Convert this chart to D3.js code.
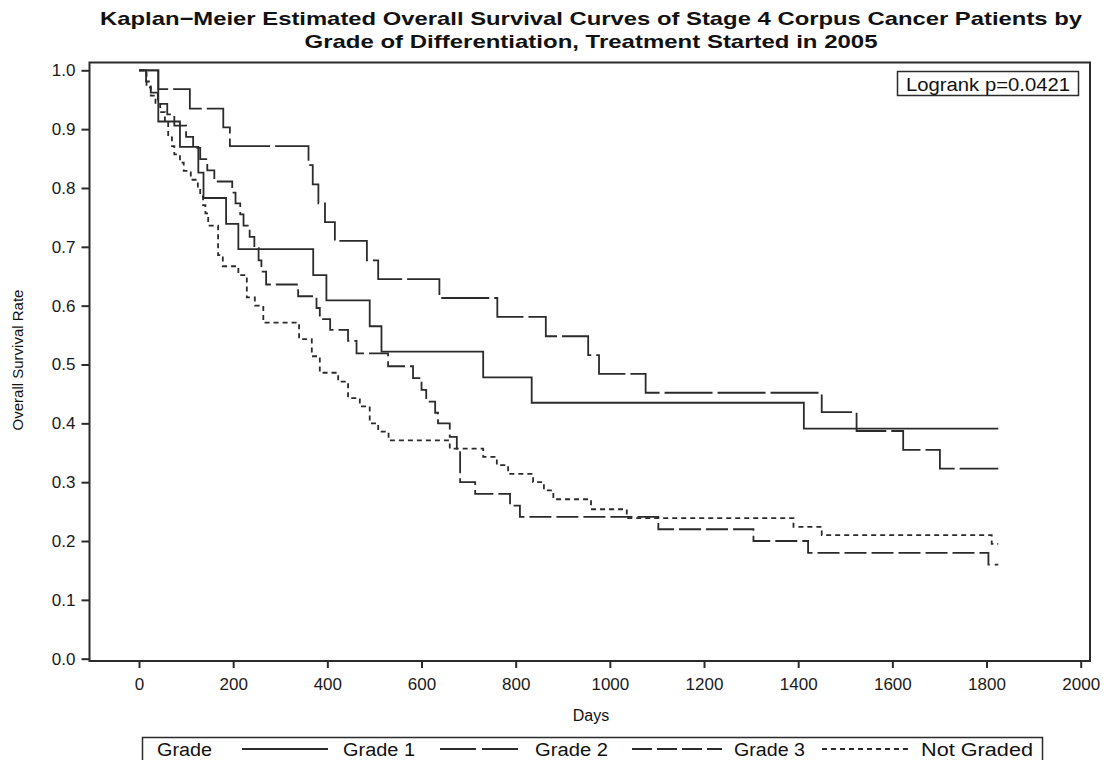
<!DOCTYPE html>
<html>
<head>
<meta charset="utf-8">
<script src="https://cdn.jsdelivr.net/npm/d3@7"></script>
<style>
  html, body { margin: 0; padding: 0; background: #fff; }
  svg { display: block; font-family: "Liberation Sans", Arial, sans-serif; }
</style>
</head>
<body>
<svg id="chart" width="1110" height="760"></svg>
<script>
// ---------------- data ----------------
const titleLines = [
  "Kaplan\u2212Meier Estimated Overall Survival Curves of Stage 4 Corpus Cancer Patients by",
  "Grade of Differentiation, Treatment Started in 2005"
];
const xTicks = [0, 200, 400, 600, 800, 1000, 1200, 1400, 1600, 1800, 2000];
const yTicks = [0.0, 0.1, 0.2, 0.3, 0.4, 0.5, 0.6, 0.7, 0.8, 0.9, 1.0];
const seriesNames = ["Grade 1", "Grade 2", "Grade 3", "Not Graded"];
const logrankText = "Logrank p=0.0421";

const grade1Days = [0, 41, 87, 126, 137, 185, 211, 370, 398, 490, 515, 731, 834, 1412, 1825];
const grade1Surv = [1.0, 0.913, 0.870, 0.826, 0.783, 0.739, 0.696, 0.652, 0.609, 0.565, 0.522, 0.478, 0.435, 0.391, 0.391];

const grade2Days = [0, 41, 108, 179, 193, 360, 369, 381, 395, 416, 484, 508, 638, 761, 864, 954, 977, 1076, 1450, 1524, 1623, 1701, 1825];
const grade2Surv = [1.0, 0.968, 0.935, 0.903, 0.871, 0.839, 0.806, 0.774, 0.742, 0.710, 0.677, 0.645, 0.613, 0.581, 0.548, 0.516, 0.484, 0.452, 0.419, 0.387, 0.355, 0.323, 0.323];

const grade3Days = [0, 15, 25, 40, 60, 75, 100, 115, 130, 145, 160, 198, 205, 215, 222, 235, 245, 254, 260, 270, 338, 377, 384, 406, 444, 462, 529, 582, 600, 610, 629, 635, 660, 675, 682, 714, 788, 809, 1103, 1305, 1421, 1804, 1825];
const grade3Surv = [1.0, 0.981, 0.962, 0.943, 0.925, 0.906, 0.887, 0.868, 0.849, 0.830, 0.811, 0.792, 0.774, 0.755, 0.736, 0.717, 0.698, 0.677, 0.658, 0.636, 0.616, 0.596, 0.577, 0.559, 0.540, 0.519, 0.497, 0.477, 0.457, 0.437, 0.418, 0.400, 0.377, 0.355, 0.300, 0.280, 0.260, 0.241, 0.220, 0.200, 0.180, 0.160, 0.160];

const notGradedDays = [0, 16, 25, 35, 45, 55, 62, 70, 75, 87, 95, 110, 125, 130, 136, 141, 147, 168, 178, 211, 229, 246, 264, 340, 367, 384, 423, 444, 469, 490, 508, 530, 660, 731, 760, 784, 837, 860, 880, 960, 1036, 1390, 1450, 1811, 1825];
const notGradedSurv = [1.0, 0.971, 0.957, 0.943, 0.929, 0.914, 0.886, 0.871, 0.857, 0.843, 0.829, 0.814, 0.800, 0.786, 0.771, 0.757, 0.736, 0.686, 0.667, 0.652, 0.614, 0.600, 0.571, 0.543, 0.514, 0.486, 0.471, 0.443, 0.429, 0.400, 0.386, 0.371, 0.357, 0.343, 0.329, 0.314, 0.300, 0.286, 0.271, 0.254, 0.239, 0.224, 0.210, 0.195, 0.195];

// ---------------- layout ----------------
const ink = "#2b2b2b";
const plot = { left: 89.5, right: 1090, top: 62.5, bottom: 661 };
const x = d3.scaleLinear().domain([0, 2000]).range([139, 1080.7]);
const y = d3.scaleLinear().domain([0, 1]).range([658.7, 70.3]);

const dashes = ["none", "48,5", "22,5", "5,4"];
const series = [
  { name: seriesNames[0], days: grade1Days, surv: grade1Surv, dash: dashes[0] },
  { name: seriesNames[1], days: grade2Days, surv: grade2Surv, dash: dashes[1] },
  { name: seriesNames[2], days: grade3Days, surv: grade3Surv, dash: dashes[2] },
  { name: seriesNames[3], days: notGradedDays, surv: notGradedSurv, dash: dashes[3] }
];

const svg = d3.select("#chart");

// title
svg.append("g").selectAll("text").data(titleLines).join("text")
  .attr("x", 591).attr("y", (d, i) => 25 + i * 23)
  .attr("text-anchor", "middle")
  .attr("font-size", 19).attr("font-weight", "bold").attr("fill", "#111")
  .attr("textLength", (d, i) => i === 0 ? 982 : 573)
  .attr("lengthAdjust", "spacingAndGlyphs")
  .text(d => d);

// curves
const line = d3.line()
  .x(d => x(d[0])).y(d => y(d[1]))
  .curve(d3.curveStepAfter);

svg.append("g").selectAll("path").data(series).join("path")
  .attr("d", s => line(s.days.map((d, i) => [d, s.surv[i]])))
  .attr("fill", "none")
  .attr("stroke", ink)
  .attr("stroke-width", 1.8)
  .attr("stroke-dasharray", s => s.dash);

// axes
const yAxis = d3.axisLeft(y).tickValues(yTicks).tickFormat(d3.format(".1f")).tickSize(8).tickSizeOuter(0).tickPadding(6);
const gy = svg.append("g").attr("transform", `translate(${plot.left},0)`).call(yAxis);
const xAxis = d3.axisBottom(x).tickValues(xTicks).tickFormat(d3.format("d")).tickSize(7).tickSizeOuter(0).tickPadding(10);
const gx = svg.append("g").attr("transform", `translate(0,${plot.bottom})`).call(xAxis);
[gx, gy].forEach(g => {
  g.select(".domain").remove();
  g.selectAll(".tick line").attr("stroke", ink).attr("stroke-width", 2);
  g.selectAll(".tick text").attr("fill", "#1a1a1a").attr("font-size", 17)
    .attr("font-family", "'Liberation Sans', Arial, sans-serif");
});

// frame
svg.append("rect")
  .attr("x", plot.left).attr("y", plot.top)
  .attr("width", plot.right - plot.left).attr("height", plot.bottom - plot.top)
  .attr("fill", "none").attr("stroke", ink).attr("stroke-width", 2);

// axis titles
svg.append("text").attr("x", 591).attr("y", 721).attr("text-anchor", "middle")
  .attr("font-size", 16).attr("fill", "#111").text("Days");
svg.append("text").attr("transform", "translate(23,360) rotate(-90)")
  .attr("text-anchor", "middle").attr("font-size", 15).attr("fill", "#111")
  .text("Overall Survival Rate");

// logrank box
svg.append("rect").attr("x", 897.5).attr("y", 71.5).attr("width", 181).attr("height", 24)
  .attr("fill", "#fff").attr("stroke", ink).attr("stroke-width", 1.5);
svg.append("text").attr("x", 988).attr("y", 90.5).attr("text-anchor", "middle")
  .attr("font-size", 18).attr("fill", "#111")
  .attr("textLength", 164).attr("lengthAdjust", "spacingAndGlyphs")
  .text(logrankText);

// legend
const lg = svg.append("g");
lg.append("rect").attr("x", 142.5).attr("y", 737.5).attr("width", 900).attr("height", 40)
  .attr("fill", "#fff").attr("stroke", ink).attr("stroke-width", 1.5);
lg.append("text").attr("x", 157).attr("y", 756).attr("font-size", 18).attr("fill", "#111")
  .attr("textLength", 55).attr("lengthAdjust", "spacingAndGlyphs").text("Grade");
const legendItems = [
  { x1: 242, x2: 328, tx: 343, w: 72 },
  { x1: 440, x2: 523, tx: 535, w: 73 },
  { x1: 632, x2: 722, tx: 734, w: 71 },
  { x1: 822, x2: 910, tx: 921, w: 112 }
];
series.forEach((s, i) => {
  const it = legendItems[i];
  lg.append("line").attr("x1", it.x1).attr("x2", it.x2).attr("y1", 749).attr("y2", 749)
    .attr("stroke", ink).attr("stroke-width", 1.8).attr("stroke-dasharray", i === 1 ? "36,6" : i === 2 ? "20,5" : s.dash);
  lg.append("text").attr("x", it.tx).attr("y", 756).attr("font-size", 18).attr("fill", "#111")
    .attr("textLength", it.w).attr("lengthAdjust", "spacingAndGlyphs").text(s.name);
});
</script>
</body>
</html>
